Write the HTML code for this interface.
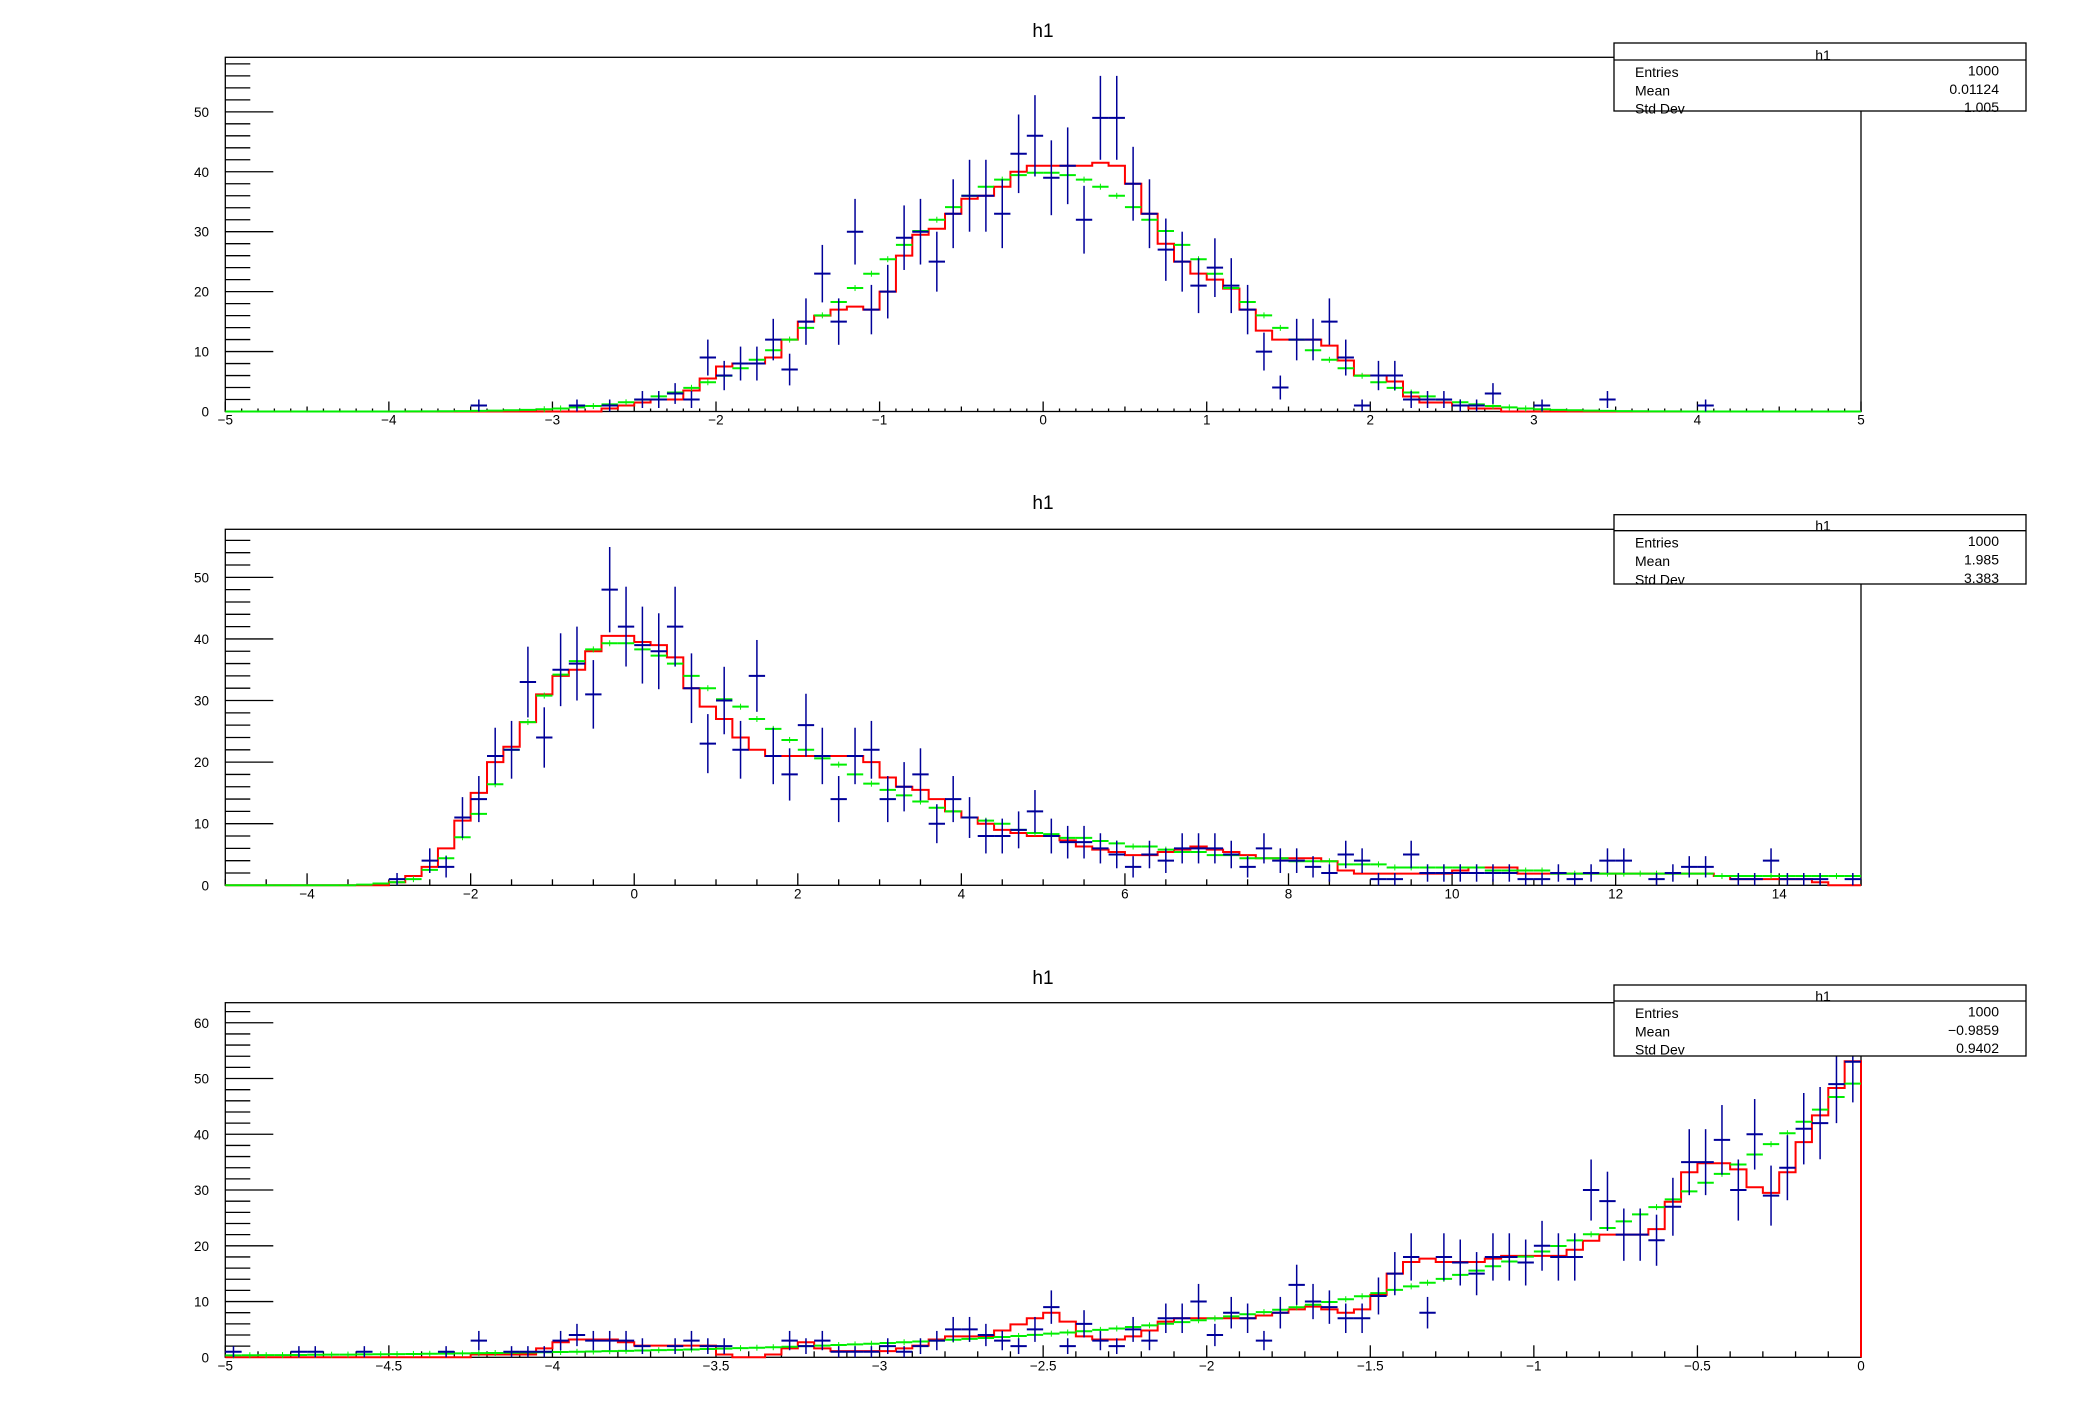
<!DOCTYPE html>
<html><head><meta charset="utf-8">
<style>
html,body{margin:0;padding:0;background:#fff;}
svg{display:block;font-family:"Liberation Sans",Arial,sans-serif;}
</style></head>
<body>
<svg id="chart" xmlns="http://www.w3.org/2000/svg" width="2088" height="1416" viewBox="0 0 2088 1416">
<rect x="0" y="0" width="2088" height="1416" fill="#fff"/>
</svg>
<script>
// ---------- Pad 1 data (100 bins, -5..5) ----------
const p1Blue = [0,0,0,0,0,0,0,0,0,0,0,0,0,0,0,1,0,0,0,0,0,1,0,1,0,2,2,3,2,9,6,8,8,12,7,15,23,15,30,17,20,29,30,25,33,36,36,33,43,46,39,41,32,49,49,38,33,27,25,21,24,21,17,10,4,12,12,15,9,1,6,6,2,2,2,1,1,3,0,0,1,0,0,0,2,0,0,0,0,0,1,0,0,0,0,0,0,0,0,0];
const p1Red = [0,0,0,0,0,0,0,0,0,0,0,0,0,0,0,0,0,0,0,0,0,0,0,0.5,1,1.5,2,2,3.5,5.5,7.5,8,8,9,12,15,16,17,17.5,17,20,26,29.5,30.5,33,35.5,36,37.5,40,41,41,41,41,41.5,41,38,33,28,25,23,22,20.5,17,13.5,12,12,12,11,8.5,6,6,5,2.5,1.5,1.5,1,0.5,0.5,0,0,0,0,0,0,0,0,0,0,0,0,0,0,0,0,0,0,0,0,0,0];
const p1GreenHalf = [39.84,39.45,38.69,37.51,35.99,34.11,32.00,30.12,27.80,25.41,22.99,20.60,18.27,16.04,13.95,12.00,10.23,8.63,7.21,5.96,4.88,3.95,3.17,2.52,1.98,1.54,1.19,0.91,0.69,0.51,0.38,0.28,0.20,0.14,0.10,0.07,0.05,0.03,0.02,0.01,0.01,0,0,0,0,0,0,0,0,0];
const p1Green = p1GreenHalf.slice().reverse().concat(p1GreenHalf);
const p1XTicks = [-5,-4,-3,-2,-1,0,1,2,3,4,5];
const p1YTicks = [0,10,20,30,40,50];
const p1Stats = ["1000","0.01124","1.005"];

// ---------- Pad 2 data (100 bins, -5..15) ----------
const p2Blue = [0,0,0,0,0,0,0,0,0,0,1,0,4,3,11,14,21,22,33,24,35,36,31,48,42,39,38,42,32,23,30,22,34,21,18,26,21,14,21,22,14,16,18,10,14,11,8,8,9,12,8,7,7,6,5,3,5,4,6,6,6,5,3,6,4,4,3,2,5,4,1,1,5,2,2,2,2,2,2,1,1,2,1,2,4,4,0,1,2,3,3,0,1,1,4,1,1,1,0,1];
const p2Red = [0,0,0,0,0,0,0,0,0,0,0.5,1.5,3,6,10.5,15,20,22.5,26.5,31,34,35,38,40.5,40.5,39.5,39,37,32,29,27,24,22,21,21,21,21,21,21,20,17.5,16,15.5,14,12,11,10,9,8.5,8,8,7.3,6.3,5.8,5.4,4.9,4.9,5.4,5.8,6.3,5.8,5.4,4.9,4.4,4.4,4.4,4.4,3.9,2.4,1.9,1.9,1.9,1.9,1.9,1.9,2.4,2.9,2.9,2.9,1.9,1.9,1.9,1.9,1.9,1.9,1.9,1.9,1.9,1.9,1.9,1.9,1.5,1,1,1,1,1,0.5,0,0];
const p2Green = [0,0,0,0,0,0,0,0,0.1,0.3,0.5,1,2.5,4.4,7.8,11.6,16.4,22,26.5,30.8,34.2,36.4,38.3,39.3,39.3,38.3,37.3,36,34,32,30.2,29,27,25.4,23.6,22,20.6,19.6,18,16.5,15.5,14.6,13.6,12.6,12,11,10.5,10,9,8.5,8.3,7.7,7.7,7.2,6.8,6.3,6.3,5.8,5.4,5.4,4.9,4.9,4.4,4.4,4.4,3.9,3.9,3.9,3.4,3.4,3.4,2.9,2.9,2.9,2.9,2.9,2.9,2.4,2.4,2.4,2.4,1.9,1.9,1.9,1.9,1.9,1.9,1.9,1.9,1.9,1.9,1.5,1.5,1.5,1.5,1.5,1.5,1.5,1.5,1.5];
const p2XTicks = [-4,-2,0,2,4,6,8,10,12,14];
const p2YTicks = [0,10,20,30,40,50];
const p2Stats = ["1000","1.985","3.383"];

// ---------- Pad 3 data (100 bins, -5..0) ----------
const p3Blue = [1,0,0,0,1,1,0,0,1,0,0,0,0,1,0,3,0,1,1,1,3,4,3,3,3,2,0,2,3,2,2,0,0,0,3,2,3,1,1,1,2,1,2,3,5,5,4,3,2,5,9,2,6,3,2,5,3,7,7,10,4,8,7,3,8,13,10,9,7,7,11,15,18,8,18,17,15,18,18,17,20,18,18,30,28,22,22,21,27,35,35,39,30,40,29,34,41,42,49,53];
const p3Red = [0,0,0,0,0,0,0,0,0,0,0,0,0,0,0,0.5,0.5,0.5,0.5,1.6,2.7,3.2,3.2,3.2,2.7,2.1,2.1,2.1,2.1,2.1,0.5,0,0,0.5,1.6,2.7,1.6,1.1,1.1,1.1,1.1,1.6,2.1,3.2,3.75,3.75,3.75,4.8,5.9,7,8,6.4,3.75,3.2,3.2,3.75,4.8,6.4,7,7,7,7,7,7.5,8,8.6,9.1,8.6,8,8.6,11.2,15,17.1,17.7,17.1,17.1,17.1,17.7,18.2,18.2,18.2,18.2,19.3,20.9,22,22,22,23,27.9,33.2,34.8,34.8,33.7,30.5,29.5,33.2,38.6,43.4,48.3,53.1];
const p3Green = [0.35,0.37,0.38,0.40,0.42,0.45,0.47,0.49,0.52,0.55,0.57,0.60,0.63,0.67,0.70,0.74,0.77,0.81,0.85,0.90,0.95,0.99,1.04,1.10,1.15,1.21,1.28,1.34,1.41,1.48,1.56,1.64,1.72,1.81,1.90,2.00,2.10,2.21,2.32,2.44,2.57,2.70,2.84,2.98,3.14,3.30,3.47,3.65,3.83,4.03,4.24,4.45,4.68,4.92,5.17,5.44,5.72,6.01,6.32,6.64,6.98,7.34,7.72,8.11,8.53,8.97,9.43,9.91,10.42,10.95,11.51,12.10,12.72,13.38,14.06,14.78,15.54,16.34,17.18,18.06,18.98,19.96,20.98,22.06,23.19,24.38,25.63,26.94,28.32,29.77,31.30,32.90,34.59,36.37,38.23,40.19,42.25,44.42,46.69,49.09];
const p3XTicks = [-5,-4.5,-4,-3.5,-3,-2.5,-2,-1.5,-1,-0.5,0];
const p3YTicks = [0,10,20,30,40,50,60];
const p3Stats = ["1000","\u22120.9859","0.9402"];

const NS = "http://www.w3.org/2000/svg";
const svg = document.getElementById('chart');
function mk(tag, attrs, parent){
  const e = document.createElementNS(NS, tag);
  for (const k in attrs) e.setAttribute(k, attrs[k]);
  (parent||svg).appendChild(e);
  return e;
}
function fmt(v){ return (v<0?"\u2212":"") + String(Math.abs(v)); }

function drawPad(name, cfg, blue, red, green, xTicks, yTicks, stats){
  const g = mk('g', {});
  
  
  const X0=225.3, X1=1861, T=cfg.top, B=cfg.bot;
  const sx = v => X0 + (v-cfg.xmin)/(cfg.xmax-cfg.xmin)*(X1-X0);
  const sy = v => B - v/cfg.ymax*(B-T);
  const n = blue.length, bw = (cfg.xmax-cfg.xmin)/n;

  const t = mk('text', {x:1043, y:cfg.titleY, 'font-size':19, 'text-anchor':'middle', fill:'#000'}, g);
  t.textContent = 'h1';
  
  

  const fr = mk('rect', {x:X0, y:T, width:X1-X0, height:B-T, fill:'none', stroke:'#000', 'stroke-width':1.3}, g);
  
  

  const ya = mk('g', {}, g);
  
  
  for (let v=0; v<=cfg.ymax+1e-9; v+=cfg.yMinor){
    const major = Math.abs(v/cfg.yMajor - Math.round(v/cfg.yMajor))<1e-6;
    mk('line', {x1:X0, x2:X0+(major?48:25), y1:sy(v), y2:sy(v), stroke:'#000', 'stroke-width':1.3}, ya);
  }
  yTicks.forEach(v=>{
    const tl = mk('text', {x:209, y:sy(v)+5, 'font-size':13.5, 'text-anchor':'end', fill:'#000'}, ya);
    tl.textContent = fmt(v);
    
    
  });

  const xa = mk('g', {}, g);
  
  
  const nm = Math.round((cfg.xmax-cfg.xmin)/cfg.xMinor);
  for (let k=0; k<=nm; k++){
    const v = cfg.xmin + k*cfg.xMinor;
    const isMaj = Math.abs(v/cfg.xMajor - Math.round(v/cfg.xMajor))<1e-6;
    const isMid = cfg.xMid && Math.abs(v/cfg.xMid - Math.round(v/cfg.xMid))<1e-6;
    const L = isMaj ? cfg.tMaj : (isMid ? cfg.tMid : cfg.tMin);
    mk('line', {x1:sx(v), x2:sx(v), y1:B, y2:B-L, stroke:'#000', 'stroke-width':1.3}, xa);
  }
  xTicks.forEach(v=>{
    const tl = mk('text', {x:sx(v), y:B+13, 'font-size':13.5, 'text-anchor':'middle', fill:'#000'}, xa);
    tl.textContent = fmt(v);
    
    
  });

  let d = 'M' + sx(cfg.xmin) + ' ' + sy(0);
  red.forEach((v,i)=>{
    const xa0 = sx(cfg.xmin+i*bw), xa1 = sx(cfg.xmin+(i+1)*bw);
    d += ' L' + xa0 + ' ' + sy(v) + ' L' + xa1 + ' ' + sy(v);
  });
  d += ' L' + sx(cfg.xmax) + ' ' + sy(0);
  const rp = mk('path', {d:d, fill:'none', stroke:'#ff0000', 'stroke-width':2}, g);
  
  

  const gg = mk('g', {stroke:'#00ee00', 'stroke-width':2}, g);
  
  
  green.forEach((v,i)=>{
    const c = cfg.xmin+(i+0.5)*bw;
    mk('line', {x1:sx(c-bw/2), x2:sx(c+bw/2), y1:sy(v), y2:sy(v)}, gg);
    if (v>0.3) mk('line', {x1:sx(c), x2:sx(c), y1:sy(v)-3, y2:sy(v)+3, 'stroke-width':1}, gg);
  });

  const bg = mk('g', {stroke:'#000099'}, g);
  
  
  blue.forEach((v,i)=>{
    if (v<=0) return;
    const c = cfg.xmin+(i+0.5)*bw, e = Math.sqrt(v);
    mk('line', {x1:sx(c-bw/2), x2:sx(c+bw/2), y1:sy(v), y2:sy(v), 'stroke-width':2}, bg);
    mk('line', {x1:sx(c), x2:sx(c), y1:sy(v+e), y2:Math.min(B, sy(v-e)), 'stroke-width':1.5}, bg);
  });

  const sb = mk('g', {}, g);
  
  
  mk('rect', {x:1614, y:cfg.sTop, width:412, height:cfg.sBot-cfg.sTop, fill:'#fff', stroke:'#000', 'stroke-width':1.3}, sb);
  mk('line', {x1:1614, x2:2026, y1:cfg.sHead, y2:cfg.sHead, stroke:'#000', 'stroke-width':1.3}, sb);
  const h = mk('text', {x:1823, y:cfg.sHead, 'font-size':14, 'text-anchor':'middle', fill:'#000'}, sb);
  h.textContent = 'h1';
  const labels = ['Entries','Mean','Std Dev'];
  labels.forEach((lab,k)=>{
    const yy = cfg.sHead + 17 + k*18.3;
    const l = mk('text', {x:1635, y:yy, 'font-size':14, fill:'#000'}, sb);
    l.textContent = lab;
    
    
    const r = mk('text', {x:1999, y:yy-1.5, 'font-size':14, 'text-anchor':'end', fill:'#000'}, sb);
    r.textContent = stats[k];
    
    
  });
}

drawPad('pad-1', {top:57.3, bot:411.5, xmin:-5, xmax:5, ymax:59.1, yMajor:10, yMinor:2,
  xMajor:1, xMinor:0.1, xMid:0.5, tMaj:10, tMid:5, tMin:3, titleY:37,
  sTop:43, sBot:111, sHead:60}, p1Blue, p1Red, p1Green, p1XTicks, p1YTicks, p1Stats);
drawPad('pad-2', {top:529.3, bot:885.3, xmin:-5, xmax:15, ymax:57.8, yMajor:10, yMinor:2,
  xMajor:2, xMinor:0.5, xMid:0, tMaj:12, tMid:6, tMin:6, titleY:509,
  sTop:514.7, sBot:584, sHead:530.7}, p2Blue, p2Red, p2Green, p2XTicks, p2YTicks, p2Stats);
drawPad('pad-3', {top:1002.7, bot:1357.3, xmin:-5, xmax:0, ymax:63.6, yMajor:10, yMinor:2,
  xMajor:0.5, xMinor:0.1, xMid:0, tMaj:12, tMid:6, tMin:6, titleY:984,
  sTop:985, sBot:1056, sHead:1001}, p3Blue, p3Red, p3Green, p3XTicks, p3YTicks, p3Stats);
</script>
</body></html>
